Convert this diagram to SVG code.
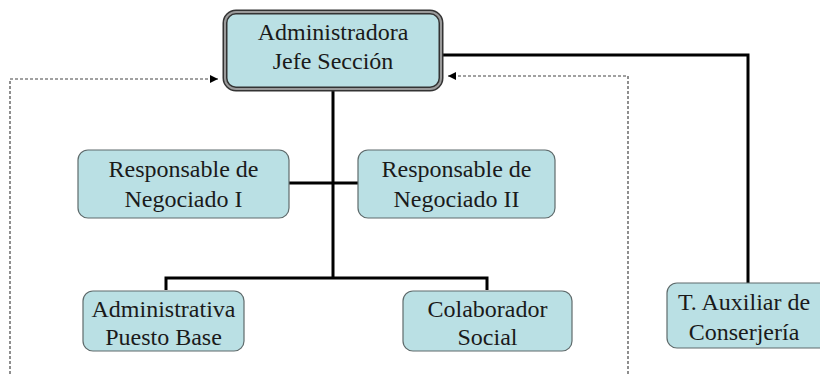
<svg xmlns="http://www.w3.org/2000/svg" width="820" height="374" viewBox="0 0 820 374">
<style>
.box{fill:#bae0e4;stroke:#5f6b6c;stroke-width:1.2}
text{font-family:"Liberation Serif","Times New Roman","DejaVu Serif",serif;font-size:24px;fill:#1a1a1a;text-anchor:middle}
.solid{fill:none;stroke:#000;stroke-width:3}
.dash{fill:none;stroke:#444;stroke-width:1.2;stroke-dasharray:3 2}
</style>
<defs>
<marker id="arr" viewBox="0 0 10 10" refX="10" refY="5" markerWidth="8" markerHeight="8" orient="auto" markerUnits="userSpaceOnUse">
<path d="M0,0 L10,5 L0,10 z" fill="#000"/>
</marker>
</defs>
<rect width="820" height="374" fill="#fff"/>
<g id="connectors">
<path class="solid" d="M333,90 V278 M166,290 V278 H487 V290"/>
<path class="solid" d="M289,183 H358"/>
<path class="solid" d="M442,55 H748 V283"/>
<path class="dash" d="M10,374 V79 H218" marker-end="url(#arr)"/>
<path class="dash" d="M628,374 V76 H448" marker-end="url(#arr)"/>
</g>
<g id="n-admin">
<rect x="225" y="12" width="216" height="77" rx="11" fill="#bae0e4" stroke="#333" stroke-width="5"/>
<rect x="225" y="12" width="216" height="77" rx="11" fill="none" stroke="#9a9a9a" stroke-width="2"/>
<text font-family="Liberation Serif, serif" x="333" y="40">Administradora</text>
<text font-family="Liberation Serif, serif" x="333" y="69">Jefe Sección</text>
</g>
<g id="n-resp1">
<rect class="box" x="78" y="150" width="211" height="68" rx="10"/>
<text font-family="Liberation Serif, serif" x="183.5" y="177">Responsable de</text>
<text font-family="Liberation Serif, serif" x="183.5" y="207">Negociado I</text>
</g>
<g id="n-resp2">
<rect class="box" x="358" y="150" width="197" height="68" rx="10"/>
<text font-family="Liberation Serif, serif" x="456.5" y="177">Responsable de</text>
<text font-family="Liberation Serif, serif" x="456.5" y="207">Negociado II</text>
</g>
<g id="n-adminpb">
<rect class="box" x="83" y="291" width="161" height="60" rx="10"/>
<text font-family="Liberation Serif, serif" x="163.5" y="317">Administrativa</text>
<text font-family="Liberation Serif, serif" x="163.5" y="345">Puesto Base</text>
</g>
<g id="n-colab">
<rect class="box" x="403" y="291" width="169" height="60" rx="10"/>
<text font-family="Liberation Serif, serif" x="487.5" y="317">Colaborador</text>
<text font-family="Liberation Serif, serif" x="487.5" y="345">Social</text>
</g>
<g id="n-taux">
<rect class="box" x="667" y="283" width="165" height="65" rx="10"/>
<text font-family="Liberation Serif, serif" x="744" y="310">T. Auxiliar de</text>
<text font-family="Liberation Serif, serif" x="744" y="340">Conserjería</text>
</g>
</svg>
